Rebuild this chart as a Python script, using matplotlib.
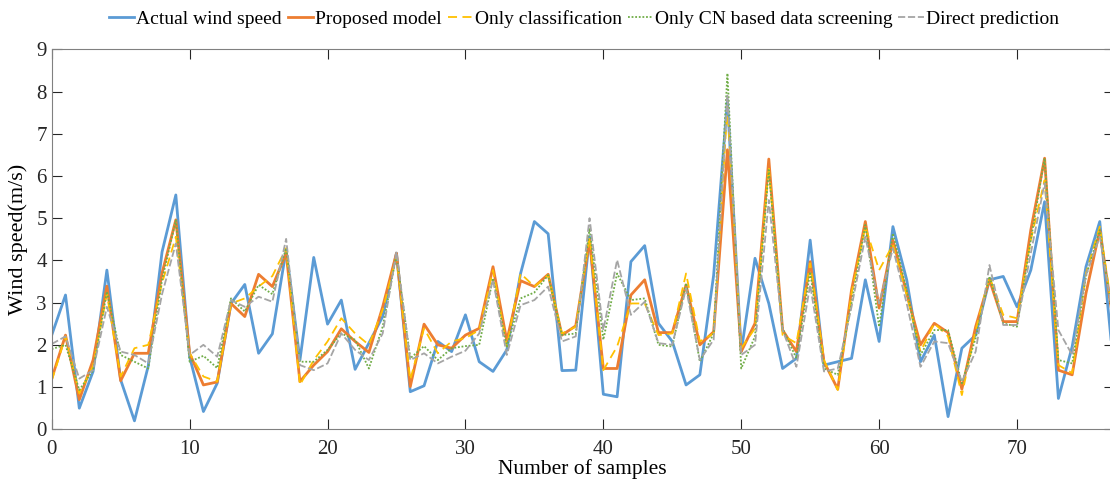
import matplotlib.pyplot as plt
import numpy as np

plt.rcParams['font.family'] = ['Liberation Serif', 'DejaVu Serif']

# values (samples 0..77)
actual = [2.23, 3.18, 0.50, 1.37, 3.77, 1.17, 0.20, 1.50, 4.20, 5.55,
          1.72, 0.42, 1.09, 2.98, 3.43, 1.80, 2.26, 4.25, 1.64, 4.07,
          2.49, 3.06, 1.42, 2.04, 2.67, 4.17, 0.89, 1.03, 2.08, 1.84,
          2.71, 1.60, 1.37, 1.88, 3.69, 4.92, 4.63, 1.39, 1.40, 4.56,
          0.83, 0.77, 3.97, 4.35, 2.51, 2.08, 1.05, 1.29, 3.65, 7.80,
          1.84, 4.05, 2.98, 1.44, 1.68, 4.48, 1.52, 1.60, 1.68, 3.54,
          2.08, 4.80, 3.54, 1.60, 2.23, 0.30, 1.92, 2.23, 3.54, 3.62,
          2.90, 3.77, 5.39, 0.73, 1.96, 3.85, 4.92, 1.50]
proposed = [1.20, 2.23, 0.70, 1.64, 3.39, 1.15, 1.80, 1.80, 3.70, 4.96,
            1.80, 1.05, 1.12, 2.98, 2.67, 3.67, 3.38, 4.17, 1.13, 1.52,
            1.84, 2.38, 2.08, 1.82, 2.90, 4.17, 1.01, 2.49, 2.00, 1.92,
            2.23, 2.39, 3.85, 2.10, 3.52, 3.38, 3.67, 2.23, 2.45, 4.48,
            1.44, 1.44, 3.18, 3.54, 2.29, 2.29, 3.42, 2.00, 2.31, 6.62,
            1.84, 2.51, 6.40, 2.35, 1.84, 3.97, 1.60, 0.95, 3.30, 4.92,
            2.87, 4.48, 3.22, 2.00, 2.51, 2.29, 0.95, 2.43, 3.54, 2.55,
            2.55, 4.72, 6.42, 1.40, 1.29, 3.22, 4.72, 2.50]
only_class = [1.15, 2.20, 0.85, 1.50, 3.20, 1.25, 1.92, 2.00, 3.46, 4.56,
              1.80, 1.25, 1.13, 2.98, 3.10, 3.38, 3.63, 4.29, 1.05, 1.64,
              2.08, 2.63, 2.27, 2.00, 2.83, 4.09, 1.17, 2.39, 1.80, 2.08,
              2.16, 2.35, 3.77, 1.96, 3.69, 3.38, 3.65, 2.27, 2.43, 4.56,
              1.40, 1.96, 2.98, 2.98, 2.23, 2.27, 3.69, 2.08, 2.27, 7.64,
              1.92, 2.39, 6.22, 2.23, 2.04, 3.93, 1.64, 0.93, 3.22, 4.80,
              3.77, 4.37, 3.18, 1.84, 2.51, 2.20, 0.81, 2.35, 3.62, 2.71,
              2.63, 4.48, 5.90, 1.52, 1.33, 3.69, 4.80, 2.60]
only_cn = [1.90, 2.00, 0.93, 1.40, 3.26, 1.76, 1.60, 1.44, 3.54, 4.95,
           1.60, 1.74, 1.45, 3.10, 2.79, 3.42, 3.20, 4.29, 1.60, 1.60,
           1.88, 2.27, 2.12, 1.44, 2.43, 4.13, 1.68, 1.97, 1.64, 1.92,
           1.97, 2.00, 3.58, 1.96, 3.10, 3.24, 3.65, 2.23, 2.27, 4.76,
           2.12, 3.69, 3.06, 3.10, 2.00, 1.96, 3.46, 1.60, 2.27, 8.43,
           1.44, 2.20, 6.14, 2.39, 1.68, 3.73, 1.44, 1.29, 2.98, 4.84,
           2.43, 4.64, 3.30, 1.76, 2.35, 2.35, 1.09, 2.16, 3.62, 2.51,
           2.43, 4.48, 6.42, 1.64, 1.56, 3.62, 4.72, 2.50]
direct = [2.02, 2.20, 1.20, 1.40, 2.90, 1.84, 1.76, 1.56, 3.20, 4.40,
          1.76, 2.00, 1.72, 3.06, 2.90, 3.14, 3.02, 4.51, 1.52, 1.40,
          1.56, 2.27, 1.88, 1.64, 2.27, 4.21, 1.64, 1.80, 1.56, 1.72,
          1.86, 2.27, 3.54, 1.76, 2.94, 3.06, 3.38, 2.08, 2.20, 5.00,
          2.35, 4.01, 2.71, 3.02, 2.04, 2.00, 3.34, 1.64, 2.12, 7.92,
          1.76, 2.00, 5.43, 2.35, 1.48, 3.42, 1.37, 1.44, 2.90, 4.56,
          2.98, 4.29, 2.98, 1.48, 2.08, 2.04, 1.13, 1.84, 3.89, 2.47,
          2.47, 4.17, 5.83, 2.35, 1.76, 3.65, 4.56, 2.60]

x = np.arange(len(actual))

fig = plt.figure(figsize=(11.1, 4.86), dpi=100)
ax = fig.add_axes([0.0466, 0.1167, 0.9566, 0.7819])

ax.plot(x, actual, color='#5b9bd5', lw=2.0, label='Actual wind speed')
ax.plot(x, proposed, color='#ed7d31', lw=2.0, label='Proposed model')
ax.plot(x, only_class, color='#ffc000', lw=1.3, dashes=(5, 3),
        label='Only classification')
ax.plot(x, only_cn, color='#70ad47', lw=1.3, dashes=(1, 1),
        label='Only CN based data screening')
ax.plot(x, direct, color='#a5a5a5', lw=1.3, dashes=(4, 1.5),
        label='Direct prediction')

ax.set_xlim(0, 77)
ax.set_ylim(0, 9)
ax.set_xticks(range(0, 80, 10))
ax.set_yticks(range(0, 10))
ax.tick_params(direction='in', top=True, right=True, length=7,
               labelsize=15, colors='#262626')
ax.tick_params(axis='x', pad=8)
for s in ax.spines.values():
    s.set_color('#808080')
ax.set_xlabel('Number of samples', fontsize=15.5, labelpad=0)
ax.set_ylabel('Wind speed(m/s)', fontsize=16, labelpad=6)

fig.legend(loc='upper center', bbox_to_anchor=(0.526, 1.015), ncol=5,
           frameon=False, fontsize=14, handlelength=1.3, handletextpad=0.1,
           columnspacing=0.3)

fig.savefig('out.png', dpi=100)
